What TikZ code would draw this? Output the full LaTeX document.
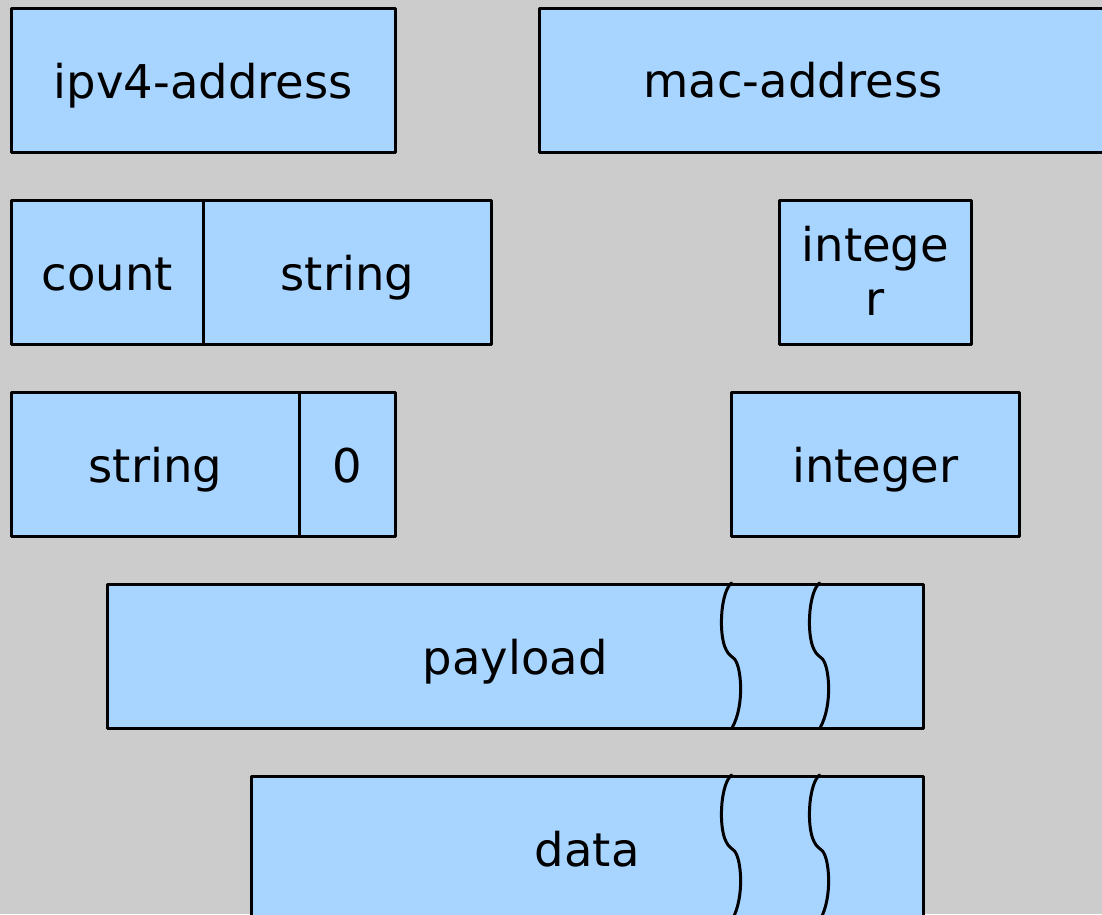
\documentclass[tikz,border=0pt]{standalone}
\usepackage{fontspec}
\setmainfont{DejaVu Sans}
\usetikzlibrary{calc}
\definecolor{bg}{HTML}{CCCCCC}
\definecolor{cell}{HTML}{A8D5FF}
\tikzset{
  edge/.style={draw=black, line width=2.6pt, line cap=round, line join=round},
  field/.style={edge, fill=cell, rectangle, inner sep=0pt, anchor=north west,
    font=\fontsize{46.5}{54}\selectfont, align=center,
    text height=46pt, text depth=10pt},
  twoline/.style={text height=96pt, text depth=10pt},
  tear/.pic={
    \draw[edge, line width=3pt] (0,0) .. controls (-10,8) and (-13,45) .. (-7,63)
      .. controls (-4,70) .. (3,76)
      .. controls (10,84) and (13,122) .. (1,144);
  }
}
\begin{document}
\begin{tikzpicture}[x=1pt, y=-1pt]
  \useasboundingbox (0,0) rectangle (1102,914);
  \fill[bg] (0,0) rectangle (1102,914);
  \clip (0,0) rectangle (1102,914);

  % row 1
  \node[field, minimum width=384pt, minimum height=144pt] (ipv4) at (10,7) {ipv4-address};
  \node[field, minimum width=600pt, minimum height=144pt] (mac) at (538,7) {};
  \node[font=\fontsize{46.5}{54}\selectfont, inner sep=0pt, text height=46pt, text depth=10pt]
    (maclabel) at (793,79) {mac-address};

  % row 2
  \node[field, minimum width=192pt, minimum height=144pt] (count) at (10,199) {count};
  \node[field, minimum width=288pt, minimum height=144pt] (str1) at (202,199) {string};
  \node[field, twoline, minimum width=192pt, minimum height=144pt] (int1) at (778,199) {intege\\r};

  % row 3
  \node[field, minimum width=288pt, minimum height=144pt] (str2) at (10,391) {string};
  \node[field, minimum width=96pt, minimum height=144pt] (zero) at (298,391) {0};
  \node[field, minimum width=288pt, minimum height=144pt] (int2) at (730,391) {integer};

  % variable-length fields with torn sections
  \node[field, minimum width=816pt, minimum height=144pt] (payload) at (106,583) {payload};
  \pic at ($(payload.north west)+(625.5,0)$) {tear};
  \pic at ($(payload.north west)+(713.5,0)$) {tear};

  \node[field, minimum width=672pt, minimum height=144pt] (data) at (250,775) {data};
  \pic at ($(data.north west)+(481.5,0)$) {tear};
  \pic at ($(data.north west)+(569.5,0)$) {tear};
\end{tikzpicture}
\end{document}
